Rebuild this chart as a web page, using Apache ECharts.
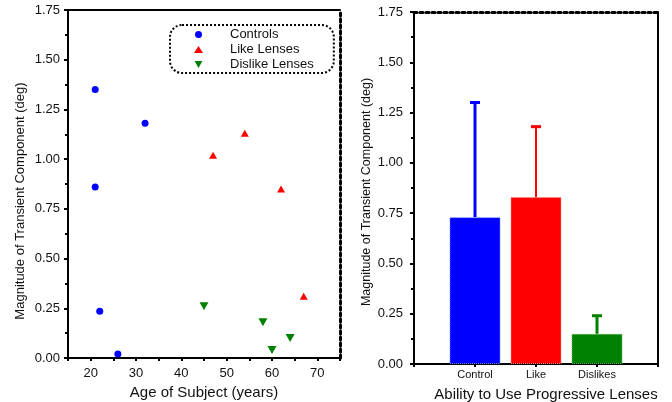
<!DOCTYPE html>
<html>
<head>
<meta charset="utf-8">
<script src="https://cdn.jsdelivr.net/npm/echarts@6/dist/echarts.min.js"></script>
<style>
  html, body { margin: 0; padding: 0; background: #fff; }
  #chart { width: 672px; height: 402px; }
</style>
</head>
<body>
<div id="chart"></div>
<script>
// 左图：年龄 vs 瞬态分量
var controlsAge = [21, 21, 22, 26, 32];
var controlsVal = [1.35, 0.86, 0.235, 0.02, 1.18];
var likeAge = [47, 54, 62, 67];
var likeVal = [1.02, 1.13, 0.85, 0.31];
var dislikeAge = [45, 58, 60, 64];
var dislikeVal = [0.26, 0.18, 0.04, 0.10];

// 右图：均值 + 上误差
var categories = ['Control', 'Like', 'Dislikes'];
var means = [0.73, 0.83, 0.15];
var upper = [1.30, 1.18, 0.24];
var barColors = ['#0000ff', '#ff0000', '#008000'];
var barBorders = ['#6a8cff', '#ff8c8c', '#5fb85f'];

var font = 'Liberation Sans, Arial, sans-serif';
var ink = '#111';
var downTri = 'path://M0,0 L10,0 L5,9 Z';

function pairs(xs, ys) {
	var out = [];
	for (var i = 0; i < xs.length; i++) {
		out.push([xs[i], ys[i]]);
	}
	return out;
}

var axisCat = [''].concat(categories, ['']);
var barData = [null];
for (var i = 0; i < means.length; i++) {
	barData.push({
		value: means[i],
		itemStyle: { color: barColors[i], borderColor: barBorders[i], borderWidth: 1, borderType: 'dotted' }
	});
}
barData.push(null);

var errData = [];
for (var i = 0; i < categories.length; i++) {
	errData.push([categories[i], means[i], upper[i], i]);
}

var decoX = function(gridIndex, type, width) {
	return {
		gridIndex: gridIndex, type: 'value', position: 'top', min: 0, max: 1,
		axisLine: { show: true, onZero: false, lineStyle: { color: '#000', width: width, type: type } },
		axisTick: { show: false }, axisLabel: { show: false }, splitLine: { show: false }
	};
};
var decoY = function(gridIndex, type, width) {
	return {
		gridIndex: gridIndex, type: 'value', position: 'right', min: 0, max: 1,
		axisLine: { show: true, onZero: false, lineStyle: { color: '#000', width: width, type: type } },
		axisTick: { show: false }, axisLabel: { show: false }, splitLine: { show: false }
	};
};

var yAxisMain = function(gridIndex, margin, padName) {
	return {
		gridIndex: gridIndex, type: 'value', min: 0, max: 1.75, interval: 0.25,
		name: 'Magnitude of Transient Component (deg)',
		nameLocation: 'middle', nameGap: 41,
		nameTextStyle: { fontFamily: font, fontSize: padName.size, color: ink, padding: [0, padName.shift, 0, 0] },
		axisLine: { show: true, onZero: false, lineStyle: { color: '#000', width: 2 } },
		axisTick: { show: true, length: 4, lineStyle: { color: '#000', width: 2 } },
		minorTick: { show: true, splitNumber: 2, length: 3, lineStyle: { color: '#000', width: 2 } },
		axisLabel: { fontFamily: font, fontSize: 13, color: ink, margin: margin,
			formatter: function(v) { return v.toFixed(2); } },
		splitLine: { show: false }
	};
};

var myChart = echarts.init(document.getElementById('chart'));
var option = {
	animation: false,
	backgroundColor: '#fff',
	grid: [
		{ left: 68, top: 10, right: 332, bottom: 44, outerBoundsMode: 'none' },
		{ left: 414, top: 12, right: 14, bottom: 38, outerBoundsMode: 'none' }
	],
	legend: {
		left: 170, top: 25, orient: 'vertical',
		data: [
			{ name: 'Controls' },
			{ name: 'Like Lenses' },
			{ name: 'Dislike Lenses', icon: downTri }
		],
		padding: [2, 20, 1, 24], itemGap: 0, itemWidth: 9, itemHeight: 7,
		borderColor: '#000', borderWidth: 2, borderType: 'dotted', borderRadius: 12,
		textStyle: { fontFamily: font, fontSize: 13, color: ink, lineHeight: 15, padding: [0, 0, 0, 22] }
	},
	xAxis: [
		{
			gridIndex: 0, type: 'value', min: 15, max: 75, interval: 5,
			name: 'Age of Subject (years)', nameLocation: 'middle', nameGap: 26,
			nameTextStyle: { fontFamily: font, fontSize: 15, color: ink },
			axisLine: { show: true, onZero: false, lineStyle: { color: '#000', width: 2 } },
			axisTick: { show: true, length: 3, lineStyle: { color: '#000', width: 2 } },
			axisLabel: { fontFamily: font, fontSize: 13, color: ink, margin: 9,
				formatter: function(v) { return (v % 10 === 0 && v > 15 && v < 75) ? String(v) : ''; } },
			splitLine: { show: false }
		},
		decoX(0, 'solid', 2),
		{
			gridIndex: 1, type: 'category', data: axisCat, boundaryGap: false,
			name: 'Ability to Use Progressive Lenses', nameLocation: 'middle', nameGap: 23,
			nameTextStyle: { fontFamily: font, fontSize: 15, color: ink, padding: [0, 0, 0, 20] },
			axisLine: { show: true, onZero: false, lineStyle: { color: '#000', width: 2 } },
			axisTick: { show: true, length: 3, lineStyle: { color: '#000', width: 2 } },
			axisLabel: { fontFamily: font, fontSize: 11, color: ink, margin: 5, interval: 0 },
			splitLine: { show: false }
		},
		decoX(1, 'dotted', 3)
	],
	yAxis: [
		yAxisMain(0, 8, { size: 13, shift: 34 }),
		decoY(0, 'dotted', 3),
		yAxisMain(1, 11, { size: 12.5, shift: 8 }),
		decoY(1, 'solid', 2)
	],
	series: [
		{
			name: 'Controls', type: 'scatter', xAxisIndex: 0, yAxisIndex: 0,
			symbol: 'circle', symbolSize: 7, itemStyle: { color: '#0000ff', opacity: 1 },
			data: pairs(controlsAge, controlsVal)
		},
		{
			name: 'Like Lenses', type: 'scatter', xAxisIndex: 0, yAxisIndex: 0,
			symbol: 'triangle', symbolSize: [8, 7], itemStyle: { color: '#ff0000', opacity: 1 },
			data: pairs(likeAge, likeVal)
		},
		{
			name: 'Dislike Lenses', type: 'scatter', xAxisIndex: 0, yAxisIndex: 0,
			symbol: downTri, symbolSize: [9, 8], itemStyle: { color: '#008000', opacity: 1 },
			data: pairs(dislikeAge, dislikeVal)
		},
		{
			name: 'mean', type: 'bar', xAxisIndex: 2, yAxisIndex: 2,
			barWidth: 51, data: barData
		},
		{
			name: 'err', type: 'custom', xAxisIndex: 2, yAxisIndex: 2,
			data: errData,
			renderItem: function(params, api) {
				var x = api.value(0);
				var base = api.coord([x, api.value(1)]);
				var top = api.coord([x, api.value(2)]);
				var c = barColors[api.value(3)];
				var w = api.value(3) === 1 ? 2 : 3;
				return {
					type: 'group',
					children: [
						{ type: 'line', shape: { x1: base[0], y1: base[1], x2: top[0], y2: top[1] },
							style: { stroke: c, lineWidth: w } },
						{ type: 'line', shape: { x1: top[0] - 5, y1: top[1], x2: top[0] + 5, y2: top[1] },
							style: { stroke: c, lineWidth: 3 } }
					]
				};
			}
		}
	]
};
myChart.setOption(option);
</script>
</body>
</html>
